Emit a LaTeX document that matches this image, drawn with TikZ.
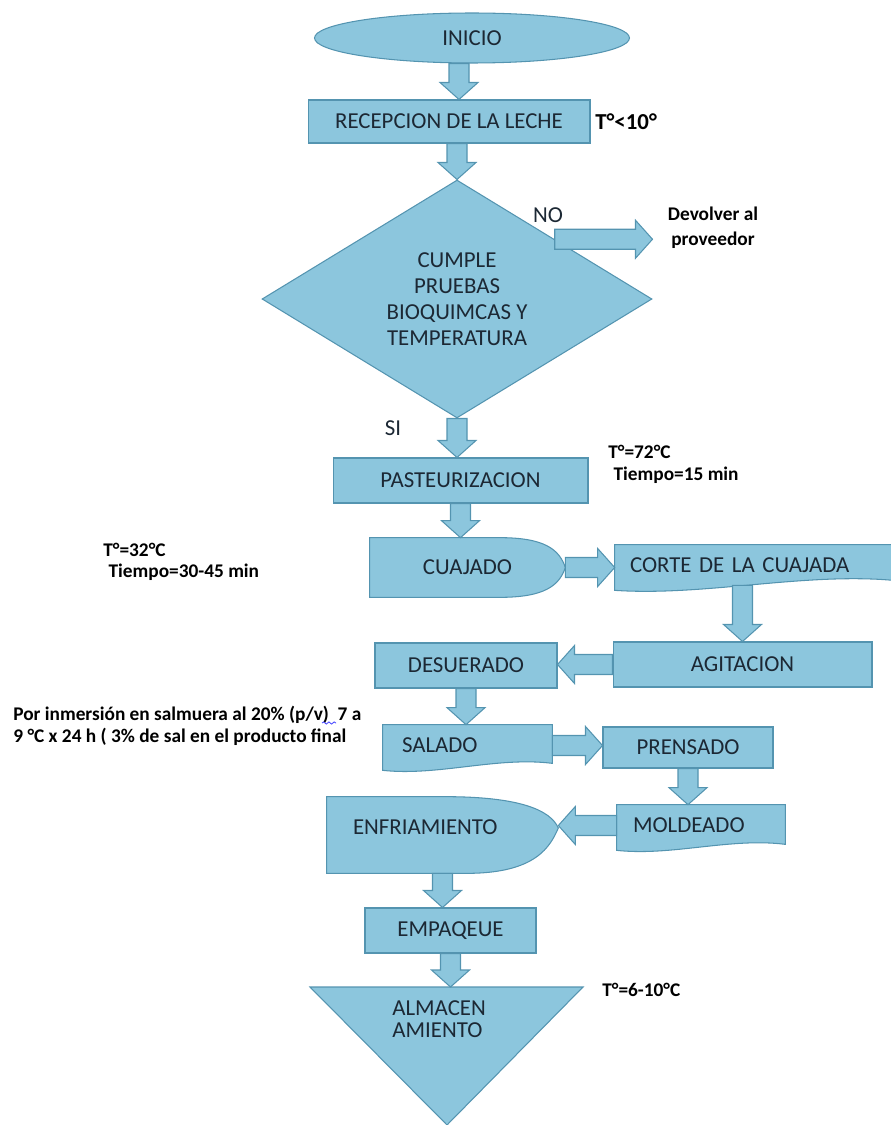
\documentclass[tikz,border=0pt]{standalone}
\usepackage{fontspec}
\setmainfont{Carlito}
\usetikzlibrary{shapes.geometric,calc,backgrounds,decorations.pathmorphing}

\definecolor{boxfill}{RGB}{140,198,221}
\definecolor{boxedge}{RGB}{84,148,176}
\definecolor{ink}{RGB}{28,40,52}

\newcommand{\lblfont}{\fontsize{13}{14.8}\selectfont}
\newcommand{\notefont}{\bfseries\fontsize{11}{12.5}\selectfont}

% block arrow from #1 (tail) to #2 (tip)
\newcommand{\blockarrow}[2]{%
  \coordinate (tail) at (#1);
  \coordinate (tip) at (#2);
  \coordinate (neck) at ($(tip)!0.34cm!(tail)$);
  \draw[flowarrow] ($(tail)!0.2cm!90:(tip)$) -- ($(neck)!0.2cm!90:(tip)$)
    -- ($(neck)!0.38cm!90:(tip)$) -- (tip) -- ($(neck)!0.38cm!-90:(tip)$)
    -- ($(neck)!0.2cm!-90:(tip)$) -- ($(tail)!0.2cm!-90:(tip)$) -- cycle;}

\begin{document}
\begin{tikzpicture}[x=0.02cm, y=-0.02cm,
    proc/.style={rectangle, draw=boxedge, fill=boxfill, line width=0.6pt, font=\lblfont, text=ink, inner sep=0pt},
    bare/.style={rectangle, draw=none, fill=none, font=\lblfont, text=ink},
    outline/.style={draw=boxedge, fill=boxfill, line width=0.6pt},
    tag/.style={font=\lblfont, text=ink, inner sep=0pt},
    note/.style={font=\notefont, text=black, inner sep=0pt, align=left},
    flowarrow/.style={draw=boxedge, fill=boxfill, line width=0.6pt}
]
\useasboundingbox (0,0) rectangle (890,1125);

% Main column
\node[proc, ellipse, minimum width=6.3cm, minimum height=1cm] (inicio) at (472,38) {INICIO};
\node[proc, minimum width=5.64cm, minimum height=0.86cm] (recep) at (449,121.5) {RECEPCION DE LA LECHE};
\node[proc, diamond, align=center, minimum width=7.8cm, minimum height=4.76cm] (dia) at (457,299)
    {CUMPLE\\PRUEBAS\\BIOQUIMCAS Y\\TEMPERATURA};
\node[proc, minimum width=5.1cm, minimum height=0.9cm] (past) at (460.5,480.5) {PASTEURIZACION};
\node[bare, minimum width=3.9cm, minimum height=1.18cm] (cuaj) at (467.5,567.5) {CUAJADO};
\node[bare, align=left, inner xsep=0.3cm, text width=4.96cm, minimum height=0.8cm] (corte) at (754,565) {CORTE DE LA CUAJADA};
\node[proc, minimum width=5.18cm, minimum height=0.9cm] (agit) at (742.5,664.5) {AGITACION};
\node[proc, minimum width=3.64cm, minimum height=0.9cm] (des) at (466,665.5) {DESUERADO};
\node[bare, align=left, inner xsep=0.38cm, text width=2.62cm, minimum height=0.82cm] (sal) at (467.5,745.5) {SALADO};
\node[proc, minimum width=3.4cm, minimum height=0.82cm] (pre) at (688,747.5) {PRENSADO};
\node[bare, align=left, inner xsep=0.32cm, text width=2.72cm, minimum height=0.82cm] (mol) at (701,825.5) {MOLDEADO};
\node[bare, align=left, inner xsep=0.52cm, text width=3.58cm, text depth=0.32cm, minimum height=1.52cm] (enf) at (442.5,835) {ENFRIAMIENTO};
\node[proc, minimum width=3.42cm, minimum height=0.9cm] (emp) at (450.5,930.5) {EMPAQEUE};

% Storage triangle
\coordinate (almL) at (310,987);
\coordinate (almR) at (583,987);
\coordinate (almB) at (447,1125);
\draw[outline] (almL) -- (almR) -- (almB) -- cycle;
\node[tag, align=left, anchor=west, font=\fontsize{13}{12.5}\selectfont] (alm) at (392,1019) {ALMACEN\\AMIENTO};

% Shapes behind the bare nodes
\begin{scope}[on background layer]
\draw[outline] (cuaj.north west) -- ($(cuaj.north west)+(130,0)$)
    .. controls +(45,0) and +(-6,-18) .. (cuaj.east)
    .. controls +(-6,18) and +(45,0) .. ($(cuaj.south west)+(130,0)$) -- (cuaj.south west) -- cycle;
\coordinate (enftip) at ($(enf.east)+(0,-7)$);
\draw[outline] (enf.north west) -- ($(enf.north west)+(118,0)$)
    .. controls +(75,0) and +(-8,-18) .. (enftip)
    .. controls +(-8,18) and +(70,0) .. ($(enf.south west)+(140,0)$) -- (enf.south west) -- cycle;
\draw[outline] (corte.north west) -- (corte.north east) -- ($(corte.south east)+(0,-5)$)
    .. controls +(-90,-8) and +(90,6) .. ($(corte.south west)+(0,5)$) -- cycle;
\draw[outline] (sal.north west) -- (sal.north east) -- ($(sal.south east)+(0,-3)$)
    .. controls +(-55,-7) and +(55,6) .. ($(sal.south west)+(0,4)$) -- cycle;
\draw[outline] (mol.north west) -- (mol.north east) -- ($(mol.south east)+(0,-2)$)
    .. controls +(-55,-7) and +(55,6) .. ($(mol.south west)+(0,4)$) -- cycle;
\end{scope}

% Side notes
\node[note, anchor=west, font=\bfseries\fontsize{13}{15}\selectfont] (tlim) at (595,122) {T°<10°};
\node[tag] (no) at (548,215) {NO};
\node[note, align=center, font=\bfseries\fontsize{11}{14.2}\selectfont] (dev) at (713,228) {Devolver al\\proveedor};
\node[tag] (si) at (393,428) {SI};
\node[note, anchor=west] (tpast) at (608,464) {T°=72°C\\\hspace*{3pt}Tiempo=15 min};
\node[note, anchor=west, font=\bfseries\fontsize{11}{12}\selectfont] (tcuaj) at (103,562) {T°=32°C\\\hspace*{3pt}Tiempo=30-45 min};
\node[note, anchor=west] (tsal) at (13,726) {Por inmersión en salmuera al 20\% (p/v)\ \ 7 a\\9 °C x 24 h ( 3\% de sal en el producto final};
\node[note, anchor=west] (talm) at (602,990) {T°=6-10°C};
\draw[blue!70, line width=0.5pt, decorate, decoration={snake, amplitude=0.6pt, segment length=3pt}] (322,723) -- (336,723);

% Flow arrows
\blockarrow{$(inicio.south)+(-13,0)$}{tail |- recep.north}
\blockarrow{dia.north |- recep.south}{dia.north}
\blockarrow{$(dia.north)!0.5!(dia.east)$}{tail -| dia.east}
\blockarrow{dia.south}{dia.south |- past.north}
\blockarrow{past.south}{past.south |- cuaj.north}
\blockarrow{cuaj.east}{cuaj.east -| corte.west}
\blockarrow{agit.north |- corte.south}{agit.north}
\blockarrow{agit.west}{agit.west -| des.east}
\blockarrow{des.south}{des.south |- sal.north}
\blockarrow{sal.east}{sal.east -| pre.west}
\blockarrow{pre.south}{pre.south |- mol.north}
\blockarrow{mol.west}{mol.west -| enftip}
\blockarrow{enf.south}{enf.south |- emp.north}
\blockarrow{emp.south}{emp.south |- almL}

\end{tikzpicture}
\end{document}
